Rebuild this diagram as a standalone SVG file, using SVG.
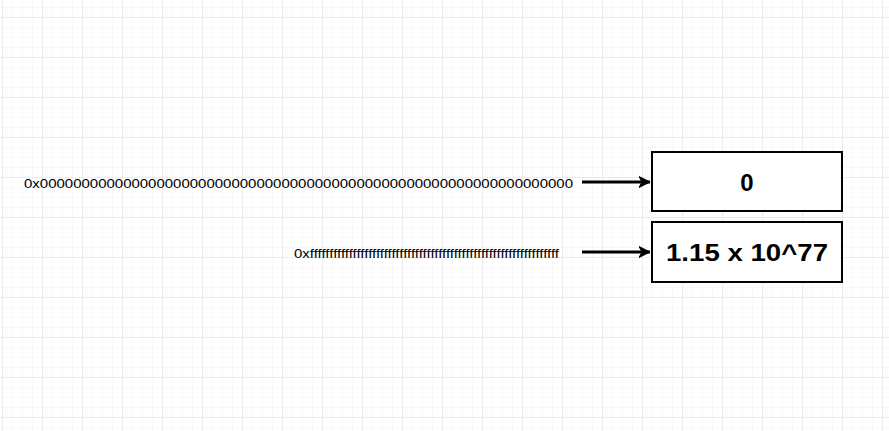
<svg xmlns="http://www.w3.org/2000/svg" width="889" height="431" viewBox="0 0 889 431">
  <defs>
    <pattern id="minor" x="2" y="7" width="10" height="10" patternUnits="userSpaceOnUse">
      <path d="M0 0 V10 M0 0 H10" fill="none" stroke="#f2f2f2" stroke-width="1"/>
    </pattern>
    <pattern id="major" x="2" y="17" width="40" height="40" patternUnits="userSpaceOnUse">
      <path d="M0 0 V40 M0 0 H40" fill="none" stroke="#e0e0e0" stroke-width="1"/>
    </pattern>
    <marker id="arrow" viewBox="0 0 12 12" refX="11" refY="6" markerWidth="12" markerHeight="12" markerUnits="userSpaceOnUse" orient="auto">
      <path d="M0 0.5 L11 6 L0 11.5 L3 6 Z" fill="#000" stroke="#000" stroke-width="1"/>
    </marker>
    <style>
      .box { fill: #ffffff; stroke: #000000; stroke-width: 2; }
      .hex { font-family: "Liberation Sans", Arial, sans-serif; font-size: 12.5px; fill: #000; }
      .val { font-family: "Liberation Sans", Arial, sans-serif; font-size: 24px; font-weight: bold; fill: #000; text-anchor: middle; }
      .conn { stroke: #000; stroke-width: 3; fill: none; }
    </style>
  </defs>
  <rect width="889" height="431" fill="#ffffff"/>
  <rect width="889" height="431" fill="url(#minor)"/>
  <rect width="889" height="431" fill="url(#major)"/>

  <g id="label-zero">
    <text class="hex" x="24" y="187.5" textLength="549" lengthAdjust="spacingAndGlyphs">0x0000000000000000000000000000000000000000000000000000000000000000</text>
  </g>
  <g id="label-max">
    <text class="hex" x="294" y="257.5" textLength="265" lengthAdjust="spacingAndGlyphs">0xffffffffffffffffffffffffffffffffffffffffffffffffffffffffffffffff</text>
  </g>

  <g id="box-zero">
    <rect class="box" x="652" y="152" width="190" height="59"/>
    <text class="val" x="747" y="191">0</text>
  </g>
  <g id="box-max">
    <rect class="box" x="652" y="222" width="190" height="60"/>
    <text class="val" x="747" y="261" textLength="162" lengthAdjust="spacingAndGlyphs">1.15 x 10^77</text>
  </g>

  <g id="connectors">
    <line class="conn" x1="582" y1="182" x2="650" y2="182" marker-end="url(#arrow)"/>
    <line class="conn" x1="582" y1="252" x2="650" y2="252" marker-end="url(#arrow)"/>
  </g>
</svg>
